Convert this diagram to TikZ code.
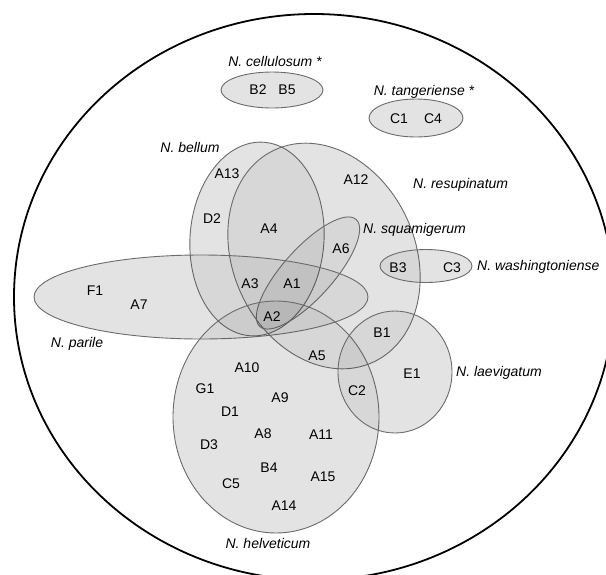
\documentclass[tikz,border=0pt]{standalone}
\usepackage{fontspec}
\setmainfont{Liberation Sans}
\begin{document}
\begin{tikzpicture}[x=1pt,y=-1pt,
  basefill/.style={fill=black!6},
  setshape/.style={draw=black!58, line width=0.9pt, fill=black, fill opacity=0.05, draw opacity=1},
  outer/.style={draw=black, line width=1.8pt},
  lbl/.style={font=\fontsize{14}{16}\selectfont, text height=10pt, text depth=0pt, inner sep=0pt},
  sp/.style={font=\fontsize{14}{16}\selectfont\itshape, text height=10pt, text depth=0pt, inner sep=0pt}]
\useasboundingbox (0,0) rectangle (606,574);
\clip (0,0) rectangle (606,574);
% outer boundary
\draw[outer] (314,297) ellipse [x radius=300, y radius=283];
% base fills (union)
\fill[basefill, shift={(257,239)}, rotate=-4] (0,0) ellipse [x radius=67, y radius=97];
\fill[basefill, shift={(324,256)}, rotate=25] (0,0) ellipse [x radius=91, y radius=117];
\fill[basefill, shift={(308,273)}, rotate=48] (0,0) ellipse [x radius=72, y radius=25];
\fill[basefill] (201,297) ellipse [x radius=167, y radius=42];
\fill[basefill] (276,417) ellipse [x radius=103, y radius=116];
\fill[basefill] (395,372) ellipse [x radius=57, y radius=61];
\fill[basefill] (426,266) ellipse [x radius=46, y radius=16.5];
\fill[basefill] (272,90) ellipse [x radius=51, y radius=18];
\fill[basefill] (416,118) ellipse [x radius=47, y radius=19];
% sets
\draw[setshape, shift={(257,239)}, rotate=-4] (0,0) ellipse [x radius=67, y radius=97]; % bellum
\draw[setshape, shift={(324,256)}, rotate=25] (0,0) ellipse [x radius=91, y radius=117]; % resupinatum
\draw[setshape, shift={(308,273)}, rotate=48] (0,0) ellipse [x radius=72, y radius=25]; % squamigerum
\draw[setshape] (201,297) ellipse [x radius=167, y radius=42]; % parile
\draw[setshape] (276,417) ellipse [x radius=103, y radius=116]; % helveticum
\draw[setshape] (395,372) ellipse [x radius=57, y radius=61]; % laevigatum
\draw[setshape] (426,266) ellipse [x radius=46, y radius=16.5]; % washingtoniense
\draw[setshape] (272,90) ellipse [x radius=51, y radius=18]; % cellulosum
\draw[setshape] (416,118) ellipse [x radius=47, y radius=19]; % tangeriense
% species labels
\node[sp] (ncel) at (275,61) {N. cellulosum *};
\node[sp] (ntan) at (424,90) {N. tangeriense *};
\node[sp] (nbel) at (190,147) {N. bellum};
\node[sp, anchor=west] (nres) at (413,183) {N. resupinatum};
\node[sp, anchor=west] (nsqu) at (363,228) {N. squamigerum};
\node[sp, anchor=west] (nwas) at (477,265) {N. washingtoniense};
\node[sp] (npar) at (77,342) {N. parile};
\node[sp, anchor=west] (nlae) at (456,371) {N. laevigatum};
\node[sp] (nhel) at (268,543) {N. helveticum};
% strain labels
\node[lbl] (B2) at (258,89) {B2};
\node[lbl] (B5) at (287,89) {B5};
\node[lbl] (C1) at (399,118) {C1};
\node[lbl] (C4) at (433,118) {C4};
\node[lbl] (A13) at (227,173) {A13};
\node[lbl] (A12) at (356,179) {A12};
\node[lbl] (D2) at (212,218) {D2};
\node[lbl] (A4) at (269,228) {A4};
\node[lbl] (A6) at (341,248) {A6};
\node[lbl] (B3) at (398,267) {B3};
\node[lbl] (C3) at (452,267) {C3};
\node[lbl] (F1) at (95,290) {F1};
\node[lbl] (A7) at (139,304) {A7};
\node[lbl] (A3) at (250,283) {A3};
\node[lbl] (A1) at (292,283) {A1};
\node[lbl] (A2) at (272,316) {A2};
\node[lbl] (B1) at (382,332) {B1};
\node[lbl] (A5) at (317,355) {A5};
\node[lbl] (A10) at (247,367) {A10};
\node[lbl] (E1) at (412,373) {E1};
\node[lbl] (G1) at (205,388) {G1};
\node[lbl] (C2) at (357,390) {C2};
\node[lbl] (A9) at (280,397) {A9};
\node[lbl] (D1) at (230,411) {D1};
\node[lbl] (A8) at (263,433) {A8};
\node[lbl] (A11) at (321,434) {A11};
\node[lbl] (D3) at (209,444) {D3};
\node[lbl] (B4) at (269,467) {B4};
\node[lbl] (A15) at (323,476) {A15};
\node[lbl] (C5) at (231,483) {C5};
\node[lbl] (A14) at (284,505) {A14};
\end{tikzpicture}
\end{document}
